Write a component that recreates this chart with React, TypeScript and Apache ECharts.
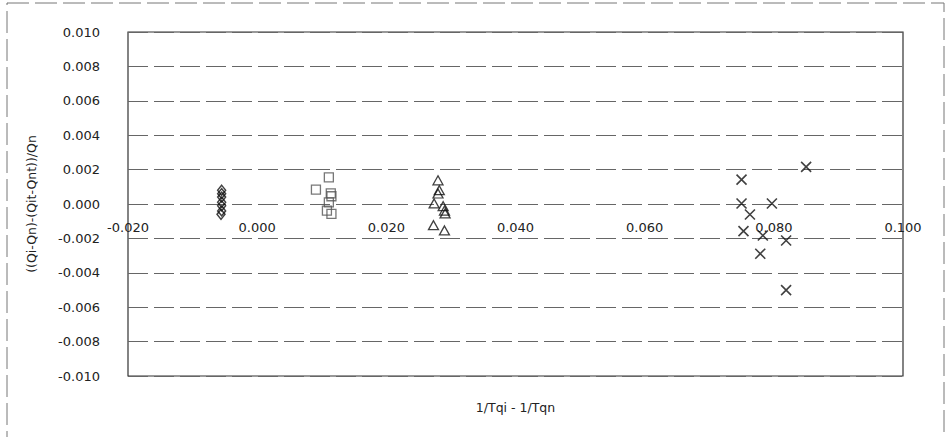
import React, { useEffect, useRef } from "react";
import * as echarts from "echarts";

const xTicks = { min: -0.02, max: 0.1, interval: 0.02 };
const yTicks = { min: -0.01, max: 0.01, interval: 0.002 };

const diamonds: [number, number][] = [
  [-0.0055, 0.0008], [-0.0055, 0.0006], [-0.0055, 0.0004], [-0.0055, 0.0001],
  [-0.0055, -0.0001], [-0.0055, -0.0004], [-0.0056, -0.0006],
];
const squares: [number, number][] = [
  [0.0111, 0.00155], [0.0091, 0.00084], [0.0114, 0.00062], [0.0115, 0.00045],
  [0.0111, 0.0001], [0.0108, -0.00038], [0.0115, -0.00057],
];
const triangles: [number, number][] = [
  [0.028, 0.00138], [0.0282, 0.0008], [0.028, 0.00061], [0.0274, 0.00003],
  [0.0288, -0.00013], [0.029, -0.00038], [0.0291, -0.00055], [0.0273, -0.00123],
  [0.029, -0.00154],
];
const crosses: [number, number][] = [
  [0.085, 0.00216], [0.075, 0.00142], [0.075, 0.00003], [0.0797, 0.00003],
  [0.0763, -0.00061], [0.0753, -0.00158], [0.0783, -0.00183], [0.0819, -0.00212],
  [0.0779, -0.00289], [0.0819, -0.00501],
];

const FONT = "DejaVu Sans";
const gridDash = [20, 6];

export default function App() {
  const ref = useRef<HTMLDivElement>(null);
  useEffect(() => {
    document.body.style.margin = "0";
    const chart = echarts.init(ref.current!, null, { renderer: "svg" });
    chart.setOption({
      animation: false,
      backgroundColor: "#fff",
      grid: {
        left: 128, right: 45, top: 32, bottom: 61,
        containLabel: false,
        outerBoundsMode: "none",
        show: true, borderColor: "#333", borderWidth: 1.2, backgroundColor: "transparent",
      },
      graphic: [
        {
          type: "rect",
          shape: { x: 7, y: 3, width: 937, height: 450 },
          style: { fill: "none", stroke: "#777", lineWidth: 1, lineDash: [22, 6] },
          silent: true,
        },
      ],
      xAxis: {
        type: "value",
        min: xTicks.min, max: xTicks.max, interval: xTicks.interval,
        name: "1/Tqi - 1/Tqn",
        nameLocation: "middle",
        nameGap: 25,
        nameTextStyle: { fontFamily: FONT, fontSize: 12.5, color: "#222" },
        axisLine: { show: false, onZero: false },
        axisTick: { show: false },
        axisLabel: {
          fontFamily: FONT, fontSize: 13, color: "#222", margin: -155,
          showMinLabel: true, showMaxLabel: true,
          formatter: (v: number) => v.toFixed(3),
        },
        splitLine: { show: false },
      },
      yAxis: {
        type: "value",
        min: yTicks.min, max: yTicks.max, interval: yTicks.interval,
        name: "((Qi-Qn)-(Qit-Qnt))/Qn",
        nameLocation: "middle",
        nameGap: 90,
        nameTextStyle: { fontFamily: FONT, fontSize: 12.5, color: "#222" },
        axisLine: { show: false },
        axisTick: { show: false },
        axisLabel: {
          fontFamily: FONT, fontSize: 13, color: "#222", margin: 28,
          formatter: (v: number) => v.toFixed(3),
          padding: [0, 0, 5, 0],
        },
        splitLine: { show: true, lineStyle: { color: "#666", type: gridDash, width: 1 } },
      },
      series: [
        {
          type: "scatter", data: diamonds, symbol: "diamond", symbolSize: [8, 10],
          itemStyle: { color: "transparent", borderColor: "#111", borderWidth: 1.5 },
        },
        {
          type: "scatter", data: squares, symbol: "rect", symbolSize: 9,
          itemStyle: { color: "transparent", borderColor: "#555", borderWidth: 1.3 },
        },
        {
          type: "scatter", data: triangles, symbol: "triangle", symbolSize: [10, 9],
          itemStyle: { color: "transparent", borderColor: "#111", borderWidth: 1.3 },
        },
        {
          type: "scatter", data: crosses, symbol: "path://M0,0L10,10M10,0L0,10", symbolSize: 10,
          itemStyle: { color: "transparent", borderColor: "#111", borderWidth: 1.6 },
        },
      ],
    });
    return () => chart.dispose();
  }, []);
  return <div ref={ref} style={{ width: 948, height: 437 }} />;
}
